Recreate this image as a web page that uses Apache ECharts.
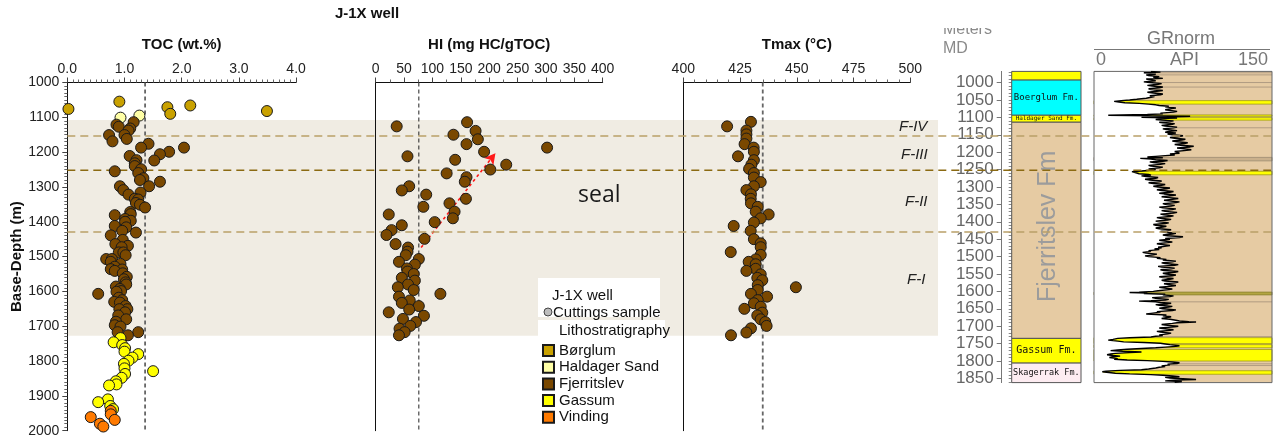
<!DOCTYPE html>
<html><head><meta charset="utf-8">
<script src="https://cdn.jsdelivr.net/npm/echarts@6/dist/echarts.min.js"></script>
<style>html,body{margin:0;padding:0;background:#fff}#c{width:1283px;height:439px}</style>
</head><body><div id="c"></div>
<script>
// ---------------- DATA ----------------
const lithoUnits = ['Børglum', 'Haldager Sand', 'Fjerritslev', 'Gassum', 'Vinding'];

// TOC (wt.%) vs depth (m)
const tocBorglumDepth = [1055, 1066, 1071, 1076, 1082, 1090];
const tocBorglum      = [0.91, 2.15, 1.75, 0.02, 3.49, 1.80];
const tocHaldagerDepth = [1095, 1101];
const tocHaldager      = [1.26, 0.93];
const tocFjerritslevDepth = [1114,1121,1127,1132,1138,1151,1151,1162,1169,1176,1187,1187,1199,1206,1211,1223,1224,1232,1240,1249,1255,1260,1275,1280,1285,1298,1298,1309,1316,1322,1334,1336,1346,1351,1359,1372,1378,1381,1392,1397,1400,1412,1416,1426,1431,1439,1452,1464,1469,1473,1488,1488,1496,1507,1507,1515,1521,1529,1536,1537,1541,1548,1558,1565,1574,1580,1586,1593,1599,1601,1607,1618,1625,1630,1632,1642,1651,1651,1660,1669,1680,1687,1697,1701,1717,1717,1726];
const tocFjerritslev      = [1.16,0.86,0.90,1.10,1.07,0.73,1.00,1.04,0.79,1.42,1.29,2.04,1.78,1.62,1.09,1.21,1.52,1.18,1.18,1.29,0.83,1.24,1.33,1.27,1.62,1.43,0.92,0.98,1.28,1.07,1.18,1.24,1.20,1.27,1.36,1.10,1.11,0.83,1.01,1.11,1.01,0.83,1.03,0.96,1.20,0.76,0.97,0.84,1.06,0.95,0.90,0.98,1.02,0.68,0.78,0.76,0.93,0.83,0.76,0.96,0.83,0.97,1.04,0.99,1.02,1.03,0.85,0.92,0.94,0.86,0.54,0.90,0.96,0.82,0.92,1.02,1.05,0.91,1.01,0.89,1.03,0.85,0.83,0.93,0.88,1.24,1.06];
const tocGassumDepth = [1734,1746,1754,1763,1773,1780,1790,1799,1808,1821,1829,1837,1848,1858,1867,1870,1910,1918,1929,1938];
const tocGassum      = [0.93,0.81,0.96,1.01,1.00,1.24,1.14,1.07,0.99,1.00,1.50,1.01,0.95,0.85,0.86,0.73,0.71,0.54,0.75,0.80];
const tocVindingDepth = [1943,1953,1961,1969,1980,1988];
const tocVinding      = [0.76,0.76,0.41,0.83,0.57,0.63];

// HI (mg HC/gTOC) vs depth, Fjerritslev
const hiDepth = [1114,1126,1139,1150,1163,1177,1187,1199,1212,1222,1236,1250,1261,1272,1285,1298,1310,1322,1334,1347,1357,1371,1379,1390,1401,1410,1424,1438,1449,1464,1474,1486,1496,1507,1515,1523,1534,1543,1550,1561,1569,1580,1588,1596,1607,1615,1626,1633,1642,1652,1660,1670,1679,1688,1699,1707,1717,1726];
const hiValue = [161,37,176,137,180,160,302,191,56,140,230,202,125,160,157,59,46,89,159,130,84,139,23,136,104,46,28,19,86,35,57,56,53,76,41,69,55,56,67,46,69,57,39,67,114,41,60,46,76,59,23,85,48,71,61,42,51,41];

// Tmax (°C) vs depth, Fjerritslev
const tmaxDepth = [1113,1126,1138,1149,1161,1177,1187,1199,1212,1223,1236,1248,1260,1273,1286,1298,1309,1321,1334,1347,1357,1371,1379,1390,1402,1412,1426,1450,1462,1473,1487,1495,1508,1515,1522,1535,1541,1551,1561,1568,1582,1588,1596,1607,1615,1625,1634,1644,1650,1661,1669,1680,1688,1699,1706,1718,1726];
const tmaxValue = [429.8,419.3,427.8,427.8,427.8,427.0,431.0,431.1,424.1,431.1,430.0,429.0,431.1,431.1,434.1,431.1,427.8,429.8,429.7,429.8,432.8,431.9,437.6,434.1,431.1,422.2,429.7,431.1,434.1,434.1,420.9,434.1,431.9,428.8,431.9,431.9,427.8,434.1,432.6,434.8,432.8,449.6,432.8,429.8,436.9,432.8,431.1,434.1,426.9,434.8,432.6,434.1,436.1,436.7,429.8,427.8,421.0];

// reference cut-offs
const tocCutoff = 1.36;
const hiCutoff = 76;
const tmaxCutoff = 435;
// maturity trend arrow (HI, depth)
const trendArrow = [[80, 1474], [211, 1203]];

// seal zone and sub-unit boundaries (depth m)
const sealZone = [1108, 1727];
const boundaryDepths = [1154, 1252, 1429];
const zoneLabels = ['F-IV', 'F-III', 'F-II', 'F-I'];

// axis tick labels
const tocTicks = [0.0, 1.0, 2.0, 3.0, 4.0];
const hiTicks = [0, 50, 100, 150, 200, 250, 300, 350, 400];
const tmaxTicks = [400, 425, 450, 475, 500];
const depthTicksLeft = [1000, 1100, 1200, 1300, 1400, 1500, 1600, 1700, 1800, 1900, 2000];
const depthTicksLog = [1000,1050,1100,1150,1200,1250,1300,1350,1400,1450,1500,1550,1600,1650,1700,1750,1800,1850];

// well log: lithostratigraphic column (top, base in m MD)
const logTop  = [968, 993, 1094, 1114, 1735, 1806];
const logBase = [993, 1094, 1114, 1735, 1806, 1862];
const logNames = ['', 'Boerglum Fm.', 'Haldager Sand Fm.', 'Fjerritslev Fm', 'Gassum Fm.', 'Skagerrak Fm.'];

// GR log (depth m MD, API)
const grLog = [[968,48],[970,56],[972,42],[974,50],[976,52],[978,44],[980,46],[983,55],[985,50],[988,58],[990,44],[993,49],[995,52],[998,42],[1000,47],[1003,57],[1005,54],[1008,45],[1010,49],[1013,58],[1015,55],[1018,46],[1020,48],[1023,58],[1025,53],[1028,45],[1030,50],[1033,58],[1035,56],[1038,47],[1040,51],[1043,47],[1045,44],[1048,36],[1050,30],[1052,23],[1054,17],[1056,21],[1058,26],[1060,38],[1062,46],[1064,52],[1066,55],[1068,63],[1070,60],[1073,69],[1075,65],[1078,60],[1080,61],[1083,70],[1085,67],[1088,56],[1090,58],[1092,45],[1094,12],[1095,30],[1097,81],[1099,60],[1100,40],[1102,70],[1103,62],[1106,52],[1108,57],[1110,67],[1112,64],[1114,55],[1116,58],[1118,68],[1120,66],[1123,57],[1125,60],[1128,70],[1130,67],[1133,58],[1135,61],[1138,70],[1140,64],[1143,60],[1145,69],[1148,62],[1150,66],[1153,75],[1155,72],[1158,64],[1160,68],[1163,77],[1165,74],[1168,66],[1170,70],[1173,79],[1175,76],[1178,68],[1180,73],[1183,84],[1185,81],[1188,70],[1190,74],[1193,82],[1195,78],[1198,68],[1200,70],[1203,72],[1205,64],[1208,68],[1210,60],[1212,52],[1214,45],[1216,58],[1218,39],[1220,48],[1222,52],[1224,62],[1226,58],[1228,47],[1230,50],[1233,60],[1235,56],[1238,46],[1240,48],[1243,58],[1245,55],[1248,46],[1250,52],[1252,47],[1254,40],[1256,32],[1258,33],[1260,36],[1262,38],[1264,46],[1266,48],[1268,40],[1270,44],[1273,54],[1275,52],[1278,43],[1280,47],[1283,57],[1285,55],[1288,46],[1290,50],[1293,60],[1295,57],[1298,50],[1300,54],[1303,64],[1305,61],[1308,53],[1310,57],[1313,67],[1315,64],[1318,55],[1320,59],[1323,69],[1325,66],[1328,57],[1330,61],[1333,71],[1335,68],[1338,59],[1340,63],[1343,72],[1345,69],[1348,58],[1350,60],[1353,68],[1355,65],[1358,55],[1360,58],[1363,69],[1365,66],[1368,57],[1370,60],[1373,70],[1375,67],[1378,56],[1380,59],[1383,67],[1385,64],[1388,53],[1390,56],[1393,65],[1395,62],[1398,52],[1400,55],[1403,63],[1405,60],[1408,50],[1410,52],[1413,61],[1415,58],[1418,52],[1420,55],[1423,65],[1425,62],[1428,56],[1430,59],[1433,69],[1435,66],[1438,58],[1440,62],[1443,75],[1445,72],[1448,60],[1450,64],[1453,55],[1455,58],[1458,66],[1460,62],[1463,53],[1465,56],[1468,64],[1470,61],[1473,54],[1475,57],[1478,51],[1480,55],[1483,46],[1485,48],[1488,41],[1490,44],[1493,53],[1495,50],[1498,43],[1500,46],[1503,56],[1505,53],[1508,61],[1510,58],[1513,69],[1515,66],[1518,57],[1520,60],[1523,71],[1525,68],[1528,54],[1530,57],[1533,68],[1535,65],[1538,56],[1540,59],[1543,71],[1545,68],[1548,58],[1550,61],[1553,69],[1555,66],[1558,55],[1560,58],[1563,67],[1565,64],[1568,57],[1570,60],[1573,71],[1575,68],[1578,59],[1580,62],[1583,69],[1585,66],[1588,55],[1590,58],[1593,66],[1595,63],[1598,54],[1600,50],[1602,38],[1603,30],[1605,45],[1606,42],[1608,60],[1610,58],[1613,67],[1615,64],[1618,49],[1620,52],[1623,63],[1625,60],[1627,48],[1628,38],[1630,52],[1632,56],[1634,65],[1636,62],[1638,52],[1640,55],[1643,66],[1645,63],[1648,55],[1650,58],[1653,69],[1655,66],[1658,53],[1660,56],[1663,48],[1665,44],[1668,61],[1670,58],[1673,65],[1675,62],[1678,57],[1680,64],[1683,69],[1685,72],[1687,80],[1688,86],[1690,70],[1692,66],[1695,57],[1697,60],[1700,71],[1702,68],[1705,55],[1707,58],[1710,67],[1712,64],[1715,53],[1717,56],[1720,65],[1722,62],[1725,55],[1727,58],[1729,52],[1731,48],[1733,30],[1735,20],[1738,16],[1740,12],[1743,20],[1745,25],[1747,42],[1749,56],[1751,60],[1753,64],[1756,72],[1758,69],[1760,60],[1762,52],[1764,40],[1766,28],[1768,20],[1770,14],[1772,24],[1774,40],[1776,30],[1778,18],[1780,14],[1782,11],[1784,16],[1786,22],[1788,15],[1790,13],[1793,20],[1795,17],[1797,28],[1799,45],[1801,58],[1803,66],[1805,72],[1807,70],[1809,62],[1811,64],[1814,57],[1816,60],[1818,55],[1820,52],[1823,46],[1825,40],[1827,22],[1829,10],[1831,7],[1833,8],[1835,18],[1837,30],[1839,48],[1841,58],[1843,66],[1845,72],[1847,60],[1849,64],[1851,75],[1853,86],[1855,68],[1857,60],[1859,74],[1861,68]];
const sandBeds = [[1052,1062],[1093,1097],[1101,1108],[1255,1265],[1733,1750],[1753,1762],[1767,1800],[1828,1838]];
const shaleMarkerBeds = [[1215,1225]];
const limeBeds = [[1602,1610]];
const bedLines = [972, 978, 1000, 1013, 1130, 1630, 1730, 1808, 1813];

// ---------------- STYLE ----------------
const FONT = 'Liberation Sans';
const unitColors = {'Børglum':'#c9a100','Haldager Sand':'#ffffa6','Fjerritslev':'#7a4800','Gassum':'#ffff00','Vinding':'#ff7a00'};
const logColors = ['#ffff00','#00ffff','#ffff00','#e6cba3','#ffff00','#fdecf1'];
const logFont = [0, 9, 6, 25, 10, 8.5];
const boundaryColors = ['#b9a068','#8b6a12','#b9a068'];
const BAND_RIGHT = 938, LINE_RIGHT = 1271;

function pts(xs, ds){ return xs.map((v,i)=>[v, ds[i]]); }

function topAxis(gi, name, min, max, interval, minorSplit, dec){
  return {
    type:'value', gridIndex:gi, position:'top', min, max, interval,
    name, nameLocation:'middle', nameGap:30,
    nameTextStyle:{fontFamily:FONT, fontWeight:'bold', fontSize:15, color:'#111'},
    axisLine:{show:true, onZero:false, lineStyle:{color:'#111', width:1}},
    axisTick:{show:true, length:5, lineStyle:{color:'#444'}},
    minorTick:{show:true, splitNumber:minorSplit, length:3, lineStyle:{color:'#666'}},
    axisLabel:{fontFamily:FONT, fontSize:14, color:'#222', margin:6, formatter: v=> dec ? v.toFixed(1) : String(v)},
    splitLine:{show:false}
  };
}
function depthAxis(gi, showLabels){
  return {
    type:'value', gridIndex:gi, inverse:true, min:depthTicksLeft[0], max:depthTicksLeft[depthTicksLeft.length-1], interval:100,
    name: showLabels ? 'Base-Depth (m)' : '', nameLocation:'middle', nameGap:38,
    nameTextStyle:{fontFamily:FONT, fontWeight:'bold', fontSize:15, color:'#111'},
    axisLine:{show:true, onZero:false, lineStyle:{color:'#111', width:1}},
    axisTick:{show:showLabels, length:5, lineStyle:{color:'#444'}},
    minorTick:{show:showLabels, splitNumber:10, length:3, lineStyle:{color:'#666'}},
    axisLabel:{show:showLabels, fontFamily:FONT, fontSize:14, color:'#222', margin:8, formatter:v=>String(v)},
    splitLine:{show:false}
  };
}
function scatter(name, xi, data){
  return {
    type:'scatter', name, xAxisIndex:xi, yAxisIndex:xi, data, symbolSize:11, clip:false, z:6,
    itemStyle:{color:unitColors[name], borderColor:'#1a1a1a', borderWidth:1, opacity:1}
  };
}
function cutoffLine(xi, value, color, width, dash){
  return {
    type:'custom', xAxisIndex:xi, yAxisIndex:xi, z:4, silent:true, data:[[value, 1000]],
    renderItem:(p, api)=>{
      const a = api.coord([api.value(0), 1000]), b = api.coord([api.value(0), 2000]);
      return {type:'line', shape:{x1:a[0], y1:a[1], x2:b[0], y2:b[1]}, style:{stroke:color, lineWidth:width, lineDash:dash}};
    }
  };
}

const minorLogTicks = [];
for (let d = 970; d <= 1860; d += 10) minorLogTicks.push(d);

const series = [
  // seal zone shading
  {type:'custom', xAxisIndex:0, yAxisIndex:0, z:-1, silent:true, data:[[0, sealZone[0], sealZone[1]]],
   renderItem:(p, api)=>{
     const a = api.coord([0, api.value(1)]), b = api.coord([0, api.value(2)]);
     return {type:'rect', shape:{x:a[0], y:a[1], width:BAND_RIGHT - a[0], height:b[1]-a[1]}, style:{fill:'#f0ece3'}};
   }},
  // sub-unit boundaries
  {type:'custom', xAxisIndex:0, yAxisIndex:0, z:5, silent:true, data:boundaryDepths.map(d=>[0,d]),
   renderItem:(p, api)=>{
     const a = api.coord([0, api.value(1)]);
     return {type:'line', shape:{x1:a[0], y1:a[1], x2:LINE_RIGHT, y2:a[1]}, style:{stroke:boundaryColors[p.dataIndex], lineWidth:1.5, lineDash:[8,5]}};
   }},
  cutoffLine(0, tocCutoff, '#666', 1.8, [4,3]),
  cutoffLine(1, hiCutoff, '#222', 1, [4,3]),
  cutoffLine(2, tmaxCutoff, '#666', 1.8, [4,3]),
  scatter('Børglum', 0, pts(tocBorglum, tocBorglumDepth)),
  scatter('Haldager Sand', 0, pts(tocHaldager, tocHaldagerDepth)),
  scatter('Fjerritslev', 0, pts(tocFjerritslev, tocFjerritslevDepth)),
  scatter('Gassum', 0, pts(tocGassum, tocGassumDepth)),
  scatter('Vinding', 0, pts(tocVinding, tocVindingDepth)),
  Object.assign(scatter('Fjerritslev', 1, pts(hiValue, hiDepth)), {
    markLine:{silent:true, symbol:['none','arrow'], symbolSize:[9,11], label:{show:false},
      lineStyle:{color:'#ff1a1a', type:[3,3], width:1.6},
      data:[[{coord:trendArrow[0]}, {coord:trendArrow[1]}]]}
  }),
  scatter('Fjerritslev', 2, pts(tmaxValue, tmaxDepth)),
  // lithostratigraphic column
  {type:'custom', xAxisIndex:3, yAxisIndex:3, z:2, silent:true, data:logTop.map((t,i)=>[0, t, logBase[i]]),
   renderItem:(p, api)=>{
     const i = p.dataIndex;
     const a = api.coord([0, api.value(1)]), b = api.coord([1, api.value(2)]);
     const children = [{type:'rect', shape:{x:a[0], y:a[1], width:b[0]-a[0], height:b[1]-a[1]}, style:{fill:logColors[i], stroke:'#555', lineWidth:1}}];
     if (logNames[i]) {
       const cx = (a[0]+b[0])/2, cy = (a[1]+b[1])/2;
       const rot = i === 3;
       children.push({type:'text', x: rot ? cx + 2 : cx, y: rot ? cy - 4 : cy, rotation: rot ? Math.PI/2 : 0,
         style:{text:logNames[i], fontFamily: rot ? FONT : 'DejaVu Sans Mono', fontSize:logFont[i], fill: rot ? '#9c9c9c' : '#111',
                align:'center', verticalAlign:'middle', textAlign:'center', textVerticalAlign:'middle'}});
     }
     return {type:'group', children};
   }},
  // GR track: background, beds, white fill left of curve, border
  {type:'custom', xAxisIndex:4, yAxisIndex:4, z:2, silent:true, data:[[0, 0]],
   renderItem:(p, api)=>{
     const tl = api.coord([0, logTop[0]]), br = api.coord([150, logBase[logBase.length-1]]);
     const ch = [{type:'rect', shape:{x:tl[0], y:tl[1], width:br[0]-tl[0], height:br[1]-tl[1]}, style:{fill:'#e6cba3'}}];
     const bed = (r, fill, stroke)=>{
       const a = api.coord([0, r[0]]), b = api.coord([150, r[1]]);
       ch.push({type:'rect', shape:{x:a[0], y:a[1], width:b[0]-a[0], height:b[1]-a[1]}, style:{fill, stroke, lineWidth:0.8}});
     };
     shaleMarkerBeds.forEach(r=>bed(r, '#c9b08c', '#9a8a70'));
     limeBeds.forEach(r=>bed(r, '#b3a540', '#8a7f30'));
     sandBeds.forEach(r=>bed(r, '#ffff00', '#a09a10'));
     bedLines.forEach(d=>{
       const a = api.coord([0, d]), b = api.coord([150, d]);
       ch.push({type:'line', shape:{x1:a[0], y1:a[1], x2:b[0], y2:b[1]}, style:{stroke:'#a38f78', lineWidth:0.8}});
     });
     const poly = [api.coord([0, grLog[0][0]])];
     grLog.forEach(g=>poly.push(api.coord([g[1], g[0]])));
     poly.push(api.coord([0, grLog[grLog.length-1][0]]));
     ch.push({type:'polygon', shape:{points:poly}, style:{fill:'#ffffff'}});
     ch.push({type:'rect', shape:{x:tl[0], y:tl[1], width:br[0]-tl[0], height:br[1]-tl[1]}, style:{fill:'none', stroke:'#666', lineWidth:1}});
     return {type:'group', children:ch};
   }},
  {type:'line', name:'GR', xAxisIndex:4, yAxisIndex:4, z:3, silent:true, showSymbol:false, symbol:'none',
   data:grLog.map(g=>[g[1], g[0]]), lineStyle:{color:'#000', width:1.4}}
];

const option = {
  animation:false,
  backgroundColor:'#fff',
  title:{text:'J-1X well', left:362, top:1, textAlign:'center',
    textStyle:{fontFamily:FONT, fontWeight:'bold', fontSize:15, color:'#111'}},
  legend:{data:lithoUnits, orient:'vertical', left:542, top:343, itemWidth:11, itemHeight:11, itemGap:1.7,
    icon:'rect', padding:0, selectedMode:false,
    textStyle:{fontFamily:FONT, fontSize:15, color:'#111'}},
  grid:[
    {left:67.3, top:82.5, width:228.8, height:348.2},
    {left:375.7, top:82.5, width:227, height:348.2},
    {left:683.3, top:82.5, width:227, height:348.2},
    {left:1011.7, top:71.4, width:69.3, height:311.2},
    {left:1094, top:71.4, width:178, height:311.2}
  ],
  xAxis:[
    topAxis(0, 'TOC (wt.%)', tocTicks[0], tocTicks[tocTicks.length-1], 1, 10, true),
    topAxis(1, 'HI (mg HC/gTOC)', hiTicks[0], hiTicks[hiTicks.length-1], 50, 2, false),
    topAxis(2, 'Tmax (°C)', tmaxTicks[0], tmaxTicks[tmaxTicks.length-1], 25, 5, false),
    {type:'value', gridIndex:3, min:0, max:1, show:false},
    {type:'value', gridIndex:4, min:0, max:150, show:false}
  ],
  yAxis:[
    depthAxis(0, true),
    depthAxis(1, false),
    depthAxis(2, false),
    {type:'value', gridIndex:3, inverse:true, min:logTop[0], max:logBase[logBase.length-1], position:'left', offset:10,
     axisLine:{show:true, onZero:false, lineStyle:{color:'#777'}},
     axisTick:{show:true, customValues:depthTicksLog, length:5, lineStyle:{color:'#777'}},
     axisLabel:{show:true, customValues:depthTicksLog, fontFamily:FONT, fontSize:17, color:'#666', margin:8, formatter:v=>String(v)},
     splitLine:{show:false}},
    {type:'value', gridIndex:4, inverse:true, min:logTop[0], max:logBase[logBase.length-1], show:false},
    {type:'value', gridIndex:3, inverse:true, min:logTop[0], max:logBase[logBase.length-1], position:'left', offset:10,
     axisLine:{show:false},
     axisTick:{show:true, customValues:minorLogTicks, length:3, lineStyle:{color:'#888'}},
     axisLabel:{show:false}, splitLine:{show:false}}
  ],
  graphic:[
    // legend header boxes
    {type:'rect', left:538, top:278, shape:{width:122, height:39}, style:{fill:'#fff'}, z:50},
    {type:'rect', left:538, top:320, shape:{width:127, height:19}, style:{fill:'#fff'}, z:50},
    {type:'text', left:552, top:288, style:{text:'J-1X well', fontFamily:FONT, fontSize:15, fill:'#111'}, z:51},
    {type:'circle', shape:{cx:548, cy:312, r:4}, style:{fill:'#bdbdbd', stroke:'#444', lineWidth:1}, z:51},
    {type:'text', left:553, top:305, style:{text:'Cuttings sample', fontFamily:FONT, fontSize:15, fill:'#111'}, z:51},
    {type:'text', left:559, top:323, style:{text:'Lithostratigraphy', fontFamily:FONT, fontSize:15, fill:'#111'}, z:51},
    // annotations
    {type:'text', left:578, top:184, style:{text:'seal', fontFamily:'Open Sans', fontSize:23, fill:'#1a1a1a'}, z:20},
    {type:'text', left:899, top:119, style:{text:zoneLabels[0], fontFamily:FONT, fontStyle:'italic', fontSize:15, fill:'#222'}, z:20},
    {type:'text', left:901, top:147, style:{text:zoneLabels[1], fontFamily:FONT, fontStyle:'italic', fontSize:15, fill:'#222'}, z:20},
    {type:'text', left:905, top:194, style:{text:zoneLabels[2], fontFamily:FONT, fontStyle:'italic', fontSize:15, fill:'#222'}, z:20},
    {type:'text', left:907, top:272, style:{text:zoneLabels[3], fontFamily:FONT, fontStyle:'italic', fontSize:15, fill:'#222'}, z:20},
    // log headers
    {type:'text', left:943, top:22, style:{text:'Meters', fontFamily:FONT, fontSize:16, fill:'#8a8a8a'}, z:20},
    {type:'rect', left:935, top:0, shape:{width:70, height:28}, style:{fill:'#fff'}, z:21},
    {type:'text', left:943, top:41, style:{text:'MD', fontFamily:FONT, fontSize:16, fill:'#8a8a8a'}, z:20},
    {type:'text', left:1147, top:30, style:{text:'GRnorm', fontFamily:FONT, fontSize:18, fill:'#777'}, z:20},
    {type:'line', shape:{x1:1094, y1:49.5, x2:1270, y2:49.5}, style:{stroke:'#777', lineWidth:1}, z:20},
    {type:'text', left:1096, top:51, style:{text:'0', fontFamily:FONT, fontSize:18, fill:'#777'}, z:20},
    {type:'text', left:1170, top:51, style:{text:'API', fontFamily:FONT, fontSize:18, fill:'#777'}, z:20},
    {type:'text', left:1238, top:51, style:{text:'150', fontFamily:FONT, fontSize:18, fill:'#777'}, z:20}
  ],
  series
};
const chart = echarts.init(document.getElementById('c'), null, {renderer:'canvas'});
chart.setOption(option);
</script></body></html>
